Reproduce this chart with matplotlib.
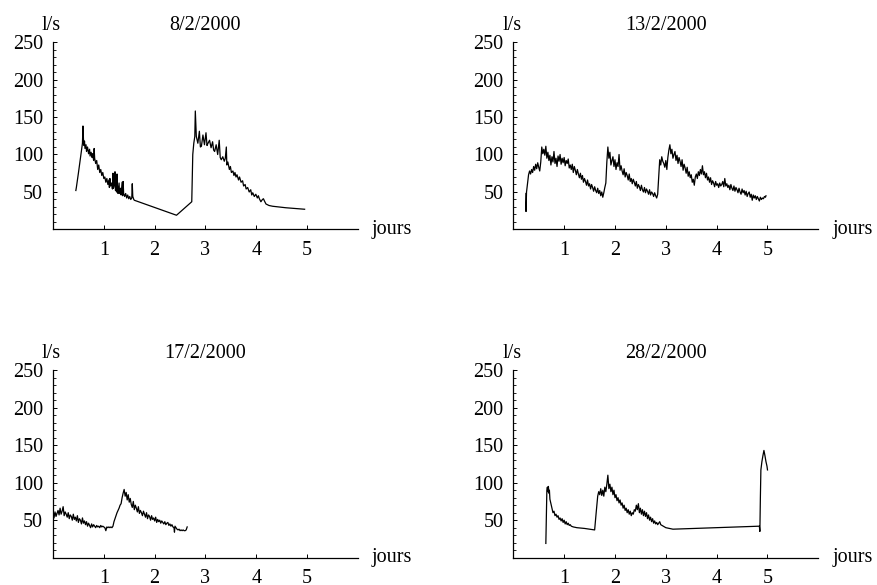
import matplotlib
matplotlib.use("Agg")
import matplotlib.pyplot as plt

plt.rcParams['font.family'] = ['Liberation Serif', 'DejaVu Serif']

# 8/2/2000
days_0802 = [0.45, 0.46, 0.50, 0.55, 0.58, 0.59, 0.60, 0.61, 0.62, 0.63, 0.65, 0.66, 0.68, 0.70, 0.72, 0.73,
             0.75, 0.77, 0.78, 0.80, 0.81, 0.82, 0.84, 0.86, 0.88, 0.90, 0.92, 0.94, 0.96, 0.98, 1.00, 1.02,
             1.04, 1.06, 1.08, 1.10, 1.11, 1.12, 1.13, 1.15, 1.17, 1.18, 1.19, 1.21, 1.22, 1.23, 1.24, 1.25,
             1.26, 1.27, 1.28, 1.30, 1.31, 1.33, 1.34, 1.36, 1.37, 1.38, 1.39, 1.41, 1.43, 1.45, 1.47, 1.49,
             1.51, 1.53, 1.55, 1.56, 1.57, 1.59, 1.60, 2.43, 2.73, 2.75, 2.77, 2.79, 2.80, 2.82, 2.85, 2.88,
             2.90, 2.92, 2.95, 2.98, 3.01, 3.03, 3.05, 3.08, 3.11, 3.14, 3.16, 3.18, 3.21, 3.24, 3.27, 3.29,
             3.31, 3.34, 3.37, 3.39, 3.41, 3.42, 3.44, 3.47, 3.49, 3.51, 3.54, 3.56, 3.58, 3.60, 3.62, 3.65,
             3.67, 3.70, 3.73, 3.75, 3.78, 3.80, 3.83, 3.86, 3.89, 3.91, 3.93, 3.96, 3.99, 4.02, 4.04, 4.06,
             4.09, 4.12, 4.14, 4.16, 4.19, 4.25, 4.32, 4.45, 4.58, 4.95]
flow_0802 = [52, 56, 75, 100, 115, 138, 120, 112, 118, 108, 113, 104, 110, 101, 107, 98,
             103, 96, 101, 92, 108, 95, 88, 92, 80, 86, 76, 80, 72, 76, 68, 70,
             63, 68, 60, 66, 56, 68, 58, 62, 54, 75, 55, 60, 77, 52, 65, 50,
             74, 54, 48, 62, 48, 55, 46, 63, 45, 64, 48, 44, 48, 42, 46, 41,
             44, 40, 42, 61, 44, 40, 39, 19, 37, 100, 115, 124, 158, 124, 115, 131,
             110, 111, 126, 113, 129, 112, 115, 119, 109, 117, 106, 104, 113, 100, 119, 96,
             93, 97, 91, 95, 110, 86, 90, 80, 84, 76, 78, 72, 76, 70, 73, 66,
             70, 63, 65, 58, 60, 54, 56, 50, 53, 46, 49, 44, 47, 42, 45, 41,
             37, 40, 41, 38, 34, 32, 31, 30, 29, 27]

# 13/2/2000
days_1302 = [0.25, 0.25, 0.26, 0.28, 0.30, 0.32, 0.34, 0.36, 0.38, 0.40, 0.42, 0.44, 0.46, 0.48, 0.50, 0.52,
             0.54, 0.56, 0.58, 0.60, 0.62, 0.64, 0.66, 0.68, 0.70, 0.72, 0.74, 0.76, 0.78, 0.80, 0.82, 0.84,
             0.86, 0.88, 0.90, 0.92, 0.94, 0.96, 0.98, 1.00, 1.02, 1.04, 1.06, 1.08, 1.10, 1.12, 1.14, 1.16,
             1.18, 1.20, 1.22, 1.24, 1.26, 1.28, 1.30, 1.32, 1.34, 1.36, 1.38, 1.40, 1.42, 1.44, 1.46, 1.48,
             1.50, 1.52, 1.54, 1.56, 1.58, 1.60, 1.62, 1.64, 1.66, 1.68, 1.70, 1.72, 1.74, 1.76, 1.78, 1.80,
             1.82, 1.84, 1.86, 1.88, 1.90, 1.92, 1.94, 1.96, 1.98, 2.00, 2.02, 2.04, 2.06, 2.08, 2.10, 2.12,
             2.14, 2.16, 2.18, 2.20, 2.22, 2.24, 2.26, 2.28, 2.30, 2.32, 2.34, 2.36, 2.38, 2.40, 2.42, 2.44,
             2.46, 2.48, 2.50, 2.52, 2.54, 2.56, 2.58, 2.60, 2.62, 2.64, 2.66, 2.68, 2.70, 2.72, 2.74, 2.76,
             2.78, 2.80, 2.82, 2.84, 2.86, 2.88, 2.90, 2.92, 2.94, 2.96, 2.98, 3.00, 3.02, 3.04, 3.06, 3.08,
             3.10, 3.12, 3.14, 3.16, 3.18, 3.20, 3.22, 3.24, 3.26, 3.28, 3.30, 3.32, 3.34, 3.36, 3.38, 3.40,
             3.42, 3.44, 3.46, 3.48, 3.50, 3.52, 3.54, 3.56, 3.58, 3.60, 3.62, 3.64, 3.66, 3.68, 3.70, 3.72,
             3.74, 3.76, 3.78, 3.80, 3.82, 3.84, 3.86, 3.88, 3.90, 3.92, 3.94, 3.96, 3.98, 4.00, 4.02, 4.04,
             4.06, 4.08, 4.10, 4.12, 4.14, 4.16, 4.18, 4.20, 4.22, 4.24, 4.26, 4.28, 4.30, 4.32, 4.34, 4.36,
             4.38, 4.40, 4.42, 4.44, 4.46, 4.48, 4.50, 4.52, 4.54, 4.56, 4.58, 4.60, 4.62, 4.64, 4.66, 4.68,
             4.70, 4.72, 4.74, 4.76, 4.78, 4.80, 4.82, 4.84, 4.86, 4.88, 4.90, 4.92, 4.94, 4.96, 4.97]
flow_1302 = [48, 24, 50, 62, 73, 78, 74, 80, 76, 84, 79, 87, 81, 89, 83, 78,
             90, 110, 101, 107, 99, 111, 95, 103, 92, 99, 86, 97, 90, 104, 88, 95,
             84, 98, 91, 100, 87, 95, 89, 96, 85, 92, 88, 94, 82, 86, 80, 87,
             76, 84, 79, 73, 80, 74, 69, 75, 67, 72, 63, 68, 64, 59, 66, 58,
             61, 54, 60, 56, 51, 57, 52, 49, 55, 48, 52, 45, 50, 43, 49, 56,
             62, 90, 110, 95, 103, 86, 92, 97, 84, 93, 80, 89, 84, 100, 79, 85,
             78, 73, 81, 70, 76, 72, 66, 74, 64, 68, 61, 67, 63, 58, 64, 55,
             60, 57, 52, 59, 53, 50, 56, 49, 54, 51, 47, 53, 46, 50, 48, 44,
             49, 45, 42, 47, 70, 93, 86, 97, 91, 88, 83, 92, 80, 96, 106, 113,
             101, 107, 95, 100, 104, 92, 99, 88, 96, 91, 84, 93, 79, 87, 82, 75,
             83, 71, 77, 69, 73, 63, 67, 59, 70, 74, 68, 77, 72, 80, 74, 85,
             73, 77, 69, 75, 66, 70, 63, 69, 60, 65, 62, 57, 64, 59, 61, 56,
             62, 58, 60, 64, 57, 68, 58, 61, 56, 59, 53, 60, 55, 52, 58, 51,
             56, 53, 49, 55, 50, 47, 54, 49, 52, 46, 51, 44, 48, 50, 43, 47,
             39, 46, 42, 45, 40, 44, 41, 38, 43, 40, 42, 41, 44, 43, 45]

# 17/2/2000
days_1702 = [0.00, 0.02, 0.04, 0.06, 0.08, 0.10, 0.12, 0.14, 0.16, 0.18, 0.20, 0.22, 0.24, 0.26, 0.28, 0.30,
             0.32, 0.34, 0.36, 0.38, 0.40, 0.42, 0.44, 0.46, 0.48, 0.50, 0.52, 0.54, 0.56, 0.58, 0.60, 0.62,
             0.64, 0.66, 0.68, 0.70, 0.72, 0.74, 0.76, 0.78, 0.80, 0.82, 0.84, 0.86, 0.88, 0.90, 0.92, 0.94,
             0.96, 0.98, 1.00, 1.02, 1.04, 1.06, 1.08, 1.10, 1.12, 1.14, 1.16, 1.18, 1.20, 1.22, 1.24, 1.26,
             1.28, 1.30, 1.32, 1.34, 1.36, 1.38, 1.40, 1.42, 1.44, 1.46, 1.48, 1.50, 1.52, 1.54, 1.56, 1.58,
             1.60, 1.62, 1.64, 1.66, 1.68, 1.70, 1.72, 1.74, 1.76, 1.78, 1.80, 1.82, 1.84, 1.86, 1.88, 1.90,
             1.92, 1.94, 1.96, 1.98, 2.00, 2.02, 2.04, 2.06, 2.08, 2.10, 2.12, 2.14, 2.16, 2.18, 2.20, 2.22,
             2.24, 2.26, 2.28, 2.30, 2.32, 2.34, 2.36, 2.38, 2.39, 2.40, 2.42, 2.44, 2.46, 2.48, 2.50, 2.52,
             2.54, 2.56, 2.58, 2.60, 2.62, 2.64]
flow_1702 = [57, 53, 61, 55, 59, 63, 57, 66, 58, 62, 68, 56, 61, 58, 54, 60,
             52, 57, 55, 50, 58, 51, 54, 49, 56, 47, 52, 50, 45, 53, 46, 49,
             44, 48, 42, 46, 43, 40, 45, 41, 44, 42, 40, 43, 41, 42, 40, 43,
             41, 42, 41, 40, 36, 41, 40, 41, 40, 41, 40, 42, 48, 52, 56, 60,
             63, 66, 70, 72, 80, 86, 91, 82, 87, 77, 84, 74, 79, 71, 67, 75,
             64, 70, 66, 61, 68, 59, 63, 60, 56, 62, 58, 54, 60, 52, 57, 55,
             50, 56, 51, 53, 49, 54, 47, 51, 48, 50, 46, 49, 47, 45, 48, 44,
             46, 47, 43, 45, 42, 44, 41, 40, 34, 42, 40, 38, 37, 38, 36, 37,
             36, 37, 36, 36, 37, 41]

# 28/2/2000
days_2802 = [0.64, 0.66, 0.67, 0.68, 0.69, 0.70, 0.71, 0.72, 0.74, 0.76, 0.78, 0.80, 0.82, 0.84, 0.86, 0.88,
             0.90, 0.92, 0.94, 0.96, 0.98, 1.00, 1.02, 1.04, 1.06, 1.08, 1.10, 1.12, 1.14, 1.18, 1.25, 1.40,
             1.60, 1.63, 1.66, 1.68, 1.70, 1.72, 1.74, 1.76, 1.78, 1.80, 1.82, 1.84, 1.86, 1.88, 1.90, 1.92,
             1.94, 1.96, 1.98, 2.00, 2.02, 2.04, 2.06, 2.08, 2.10, 2.12, 2.14, 2.16, 2.18, 2.20, 2.22, 2.24,
             2.26, 2.28, 2.30, 2.32, 2.34, 2.36, 2.38, 2.40, 2.42, 2.44, 2.46, 2.48, 2.50, 2.52, 2.54, 2.56,
             2.58, 2.60, 2.62, 2.64, 2.66, 2.68, 2.70, 2.72, 2.74, 2.76, 2.78, 2.80, 2.82, 2.84, 2.86, 2.88,
             2.90, 2.95, 3.00, 3.07, 3.14, 4.84, 4.85, 4.86, 4.87, 4.89, 4.91, 4.93, 4.95, 4.97, 4.99, 5.00]
flow_2802 = [19, 90, 94, 88, 95, 86, 90, 78, 72, 66, 60, 62, 56, 58, 54, 56,
             51, 53, 49, 52, 47, 50, 45, 48, 44, 46, 43, 44, 42, 41, 40, 39,
             37, 60, 82, 88, 84, 92, 83, 90, 82, 94, 88, 98, 110, 92, 98, 88,
             94, 84, 90, 80, 84, 76, 80, 73, 77, 70, 73, 66, 70, 63, 66, 60,
             64, 58, 62, 56, 60, 58, 64, 62, 70, 64, 72, 60, 66, 58, 64, 56,
             62, 55, 60, 52, 57, 50, 54, 48, 52, 46, 49, 45, 47, 44, 46, 48,
             44, 42, 40, 39, 38, 42, 35, 80, 117, 128, 136, 143, 136, 128, 122, 117]

titles = ["8/2/2000", "13/2/2000", "17/2/2000", "28/2/2000"]
series = [(days_0802, flow_0802), (days_1302, flow_1302),
          (days_1702, flow_1702), (days_2802, flow_2802)]

fig = plt.figure(figsize=(8.77, 5.85), dpi=100)
rects = [[0.0604, 0.6077, 0.3478, 0.3205], [0.5853, 0.6077, 0.3478, 0.3205],
         [0.0604, 0.0467, 0.3478, 0.3205], [0.5853, 0.0467, 0.3478, 0.3205]]

for rect, title, (d, q) in zip(rects, titles, series):
    ax = fig.add_axes(rect)
    ax.plot(d, q, color="black", lw=0.9)
    ax.set_xlim(0, 6)
    ax.set_ylim(0, 250)
    ax.spines["top"].set_visible(False)
    ax.spines["right"].set_visible(False)
    for s in ("left", "bottom"):
        ax.spines[s].set_linewidth(0.9)
    ax.set_xticks([1, 2, 3, 4, 5])
    ax.set_yticks([50, 100, 150, 200, 250])
    ax.set_yticks(range(10, 250, 10), minor=True)
    ax.tick_params(axis="both", which="major", direction="in", length=3, width=0.7,
                   labelsize=14.5)
    ax.tick_params(axis="y", which="minor", direction="in", length=2, width=0.6)
    ax.tick_params(axis="x", which="major", pad=8)
    ax.tick_params(axis="y", which="major", pad=7)
    ax.annotate(title, xy=(0.5, 1), xycoords="axes fraction", xytext=(0, 12),
                textcoords="offset points", ha="center", va="center", fontsize=14.5)
    ax.annotate("l/s", xy=(0, 1), xycoords="axes fraction", xytext=(-1, 12),
                textcoords="offset points", ha="center", va="center", fontsize=14.5)
    ax.annotate("jours", xy=(1, 0), xycoords="axes fraction", xytext=(10, 0),
                textcoords="offset points", ha="left", va="center", fontsize=14.5)

fig.savefig("out.png", dpi=100)
